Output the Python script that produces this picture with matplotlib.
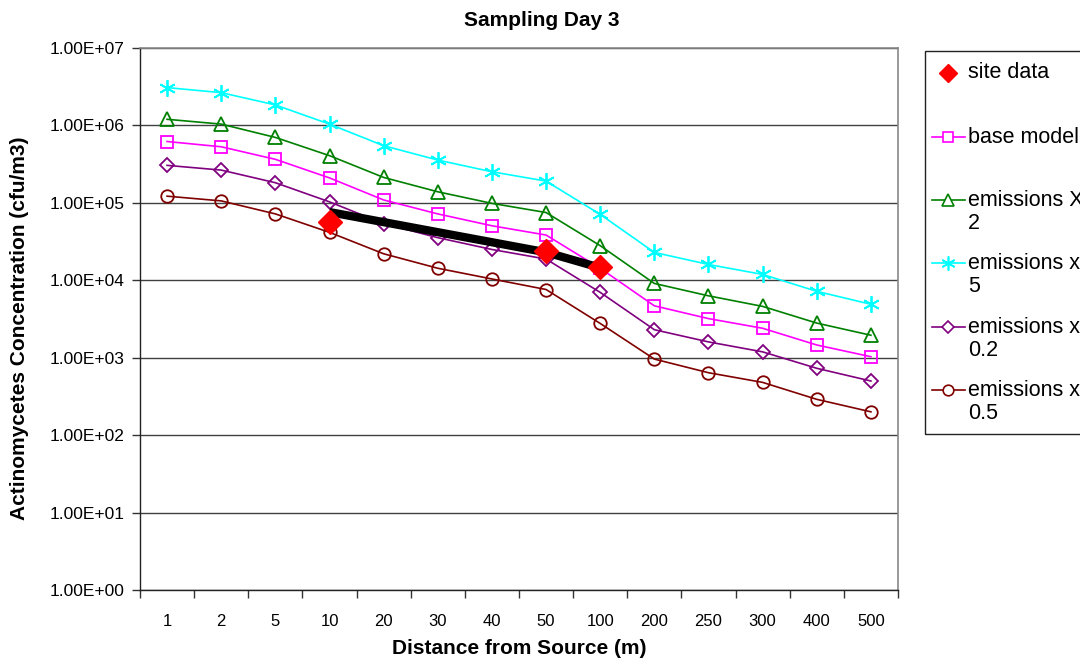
import matplotlib
matplotlib.use("Agg")
import matplotlib.pyplot as plt
from matplotlib.lines import Line2D
from matplotlib.patches import Rectangle
from matplotlib.ticker import FixedLocator, FuncFormatter, NullFormatter

plt.rcParams['font.family'] = ['Liberation Sans', 'DejaVu Sans']

# Distance categories (m)
distances = ['1', '2', '5', '10', '20', '30', '40', '50', '100', '200', '250', '300', '400', '500']

# Modelled concentrations (cfu/m3)
base_model = [6.2e5, 5.3e5, 3.65e5, 2.1e5, 1.09e5, 7.2e4, 5.06e4, 3.84e4, 1.43e4, 4.68e3, 3.2e3, 2.4e3, 1.46e3, 1.03e3]
emis_x2 = [1.2e6, 1.04e6, 7.0e5, 4.07e5, 2.13e5, 1.39e5, 9.85e4, 7.5e4, 2.8e4, 9.1e3, 6.3e3, 4.6e3, 2.8e3, 1.95e3]
emis_x5 = [3.08e6, 2.65e6, 1.84e6, 1.04e6, 5.47e5, 3.57e5, 2.52e5, 1.91e5, 7.1e4, 2.29e4, 1.6e4, 1.19e4, 7.2e3, 4.9e3]
emis_x02 = [3.05e5, 2.65e5, 1.82e5, 1.03e5, 5.4e4, 3.55e4, 2.5e4, 1.88e4, 6.98e3, 2.3e3, 1.6e3, 1.19e3, 7.3e2, 5.0e2]
emis_x05 = [1.22e5, 1.06e5, 7.2e4, 4.16e4, 2.2e4, 1.43e4, 1.04e4, 7.6e3, 2.77e3, 9.6e2, 6.4e2, 4.8e2, 2.9e2, 2.0e2]

# Measured site data and its trend
site_dist = ['10', '50', '100']
site_vals = [5.6e4, 2.4e4, 1.5e4]
trend_dist = ['10', '50', '100']
trend_vals = [7.6e4, 2.3e4, 1.45e4]

y_ticks = [1e0, 1e1, 1e2, 1e3, 1e4, 1e5, 1e6, 1e7]

W, H = 1080, 664
fig = plt.figure(figsize=(W / 100, H / 100), dpi=100)
L, R, T, B = 140, 898, 48, 590
ax = fig.add_axes([L / W, 1 - B / H, (R - L) / W, (B - T) / H])

idx = {d: i for i, d in enumerate(distances)}
xs = list(range(len(distances)))

series = [
    (base_model, 'base model', '#FF00FF', 's', 9),
    (emis_x2, 'emissions X\n2', '#008000', '^', 10),
    (emis_x5, 'emissions x\n5', '#00FFFF', (6, 2, 0), 12),
    (emis_x02, 'emissions x\n0.2', '#800080', 'D', 7),
    (emis_x05, 'emissions x\n0.5', '#800000', 'o', 9),
]

for vals, label, color, mk, ms in series:
    ax.plot(xs, vals, color=color, lw=1.2, marker=mk, ms=ms, mfc='none',
            mec=color, mew=1.3, zorder=3)

ax.plot([idx[d] for d in trend_dist], trend_vals, color='black', lw=6,
        solid_capstyle='butt', solid_joinstyle='miter', zorder=4)
ax.plot([idx[d] for d in site_dist], site_vals, ls='none', marker='D', ms=12,
        color='#FF0000', mec='#FF0000', zorder=5)

ax.set_yscale('log')
ax.set_ylim(1e0, 1e7)
ax.set_xlim(-0.5, len(distances) - 0.5)

ax.yaxis.set_major_locator(FixedLocator(y_ticks))
ax.yaxis.set_minor_locator(FixedLocator([]))
ax.yaxis.set_major_formatter(FuncFormatter(lambda v, p: f"{v:.2E}"))
ax.tick_params(axis='y', which='major', direction='out', length=6, width=1,
               pad=5, labelsize=12.5, color='#333333')

ax.xaxis.set_major_locator(FixedLocator([i - 0.5 for i in range(len(distances) + 1)]))
ax.xaxis.set_major_formatter(NullFormatter())
ax.xaxis.set_minor_locator(FixedLocator(xs))
ax.set_xticklabels(distances, minor=True)
ax.tick_params(axis='x', which='major', direction='out', length=6, width=1, color='#333333')
ax.tick_params(axis='x', which='minor', length=0, pad=17, labelsize=12)

ax.grid(axis='y', which='major', color='#404040', lw=1)
ax.set_axisbelow(True)
for side in ['top', 'right']:
    ax.spines[side].set_color('#888888')
    ax.spines[side].set_linewidth(1.2)
for side in ['left', 'bottom']:
    ax.spines[side].set_color('#222222')
    ax.spines[side].set_linewidth(1)

fig.text(542 / W, 1 - 20 / H, 'Sampling Day 3', ha='center', va='center',
         fontsize=15, fontweight='bold')
fig.text(519 / W, 1 - 648 / H, 'Distance from Source (m)', ha='center', va='center',
         fontsize=15, fontweight='bold')
fig.text(20 / W, 1 - 328 / H, 'Actinomycetes Concentration (cfu/m3)', ha='center',
         va='center', rotation=90, fontsize=15, fontweight='bold')

# Legend box, running off the right edge of the figure
fig.patches.append(Rectangle((925 / W, 1 - 434 / H), 200 / W, (434 - 51) / H,
                             transform=fig.transFigure, fill=False,
                             edgecolor='#222222', lw=1))
leg_rows = [73, 137, 200, 263, 327, 390]
fig.add_artist(Line2D([948 / W], [1 - leg_rows[0] / H], marker='D', ms=9, ls='none',
                      color='#FF0000', transform=fig.transFigure))
fig.text(968 / W, 1 - leg_rows[0] / H, 'site data', ha='left', va='center', fontsize=15.5)
for (vals, label, color, mk, ms), yrow in zip(series, leg_rows[1:]):
    fig.add_artist(Line2D([932 / W, 965 / W], [1 - yrow / H] * 2, color=color, lw=1.2,
                          transform=fig.transFigure))
    fig.add_artist(Line2D([948 / W], [1 - yrow / H], marker=mk, ms=ms * 0.85, mfc='white',
                          mec=color, mew=1.2, ls='none', transform=fig.transFigure))
    fig.text(968 / W, 1 - yrow / H + 10 / H, label, ha='left', va='top', fontsize=15.5,
             linespacing=1.1)

fig.savefig('out.png', dpi=100)
